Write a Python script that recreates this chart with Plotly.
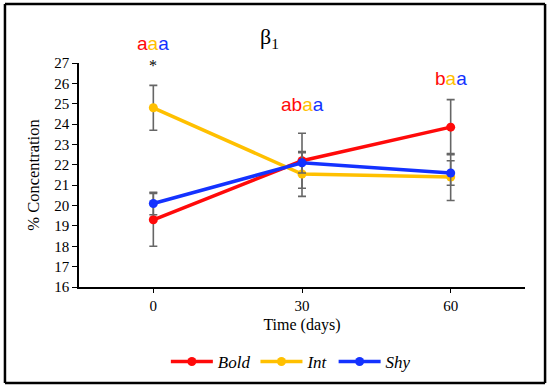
import plotly.graph_objects as go

days = [0, 30, 60]
series_names = ["Bold", "Int", "Shy"]
bold_vals = [19.3, 22.2, 23.85]
int_vals = [24.8, 21.55, 21.4]
shy_vals = [20.1, 22.1, 21.6]
bold_err = [1.3, 1.35, 1.35]
int_err = [1.1, 1.1, 1.15]
shy_err = [0.55, 0.5, 0.6]
colors = ["#FF0A0A", "#FFC000", "#1432FF"]
letter_groups = [["a", "a", "a"], ["ab", "a", "a"], ["b", "a", "a"]]
letter_y_px = [43, 104, 78]  # pixel rows of the letter labels
star_y = 27.0
y_ticks = list(range(16, 28))

PLOT_TOP, PLOT_BOTTOM = 63, 287

def ypaper(px):
    return (PLOT_BOTTOM - px) / (PLOT_BOTTOM - PLOT_TOP)

fig = go.Figure()
for name, vals, errs, col in zip(series_names, [bold_vals, int_vals, shy_vals],
                                 [bold_err, int_err, shy_err], colors):
    fig.add_trace(go.Scatter(
        x=days, y=vals, name="<i>" + name + "</i>", mode="lines+markers",
        line=dict(color=col, width=3.5), marker=dict(color=col, size=9),
        error_y=dict(type="data", array=errs, visible=True, color="#666666",
                     thickness=1.6, width=4),
    ))

serif = "Liberation Serif, Times New Roman, serif"
for d, grp, ypx in zip(days, letter_groups, letter_y_px):
    txt = "".join(f"<span style='color:{c}'>{g}</span>" for g, c in zip(grp, colors))
    fig.add_annotation(x=d, y=ypaper(ypx), xref="x", yref="paper", text=txt, showarrow=False,
                       xanchor="center", yanchor="middle",
                       font=dict(family="Liberation Sans, Arial, sans-serif", size=19))
fig.add_annotation(x=0, y=star_y, text="*", showarrow=False, yshift=-2,
                   xanchor="center", yanchor="middle",
                   font=dict(family=serif, size=16, color="black"))

fig.add_annotation(x=0.428, y=ypaper(38), xref="paper", yref="paper", text="β<sub>1</sub>",
                   showarrow=False, xanchor="center", yanchor="middle",
                   font=dict(family=serif, size=22, color="black"))

# outer frame drawn as four separate lines
frame_x0, frame_x1 = -0.166, 1.045
frame_y0, frame_y1 = ypaper(383), ypaper(4)
for (xa, ya, xb, yb) in [(frame_x0, frame_y0, frame_x1, frame_y0),
                         (frame_x0, frame_y1, frame_x1, frame_y1),
                         (frame_x0, frame_y0, frame_x0, frame_y1),
                         (frame_x1, frame_y0, frame_x1, frame_y1)]:
    fig.add_shape(type="line", xref="paper", yref="paper", x0=xa, y0=ya, x1=xb, y1=yb,
                  line=dict(color="black", width=2.5))

fig.update_layout(
    width=550, height=388,
    margin=dict(l=79, r=25, t=63, b=101, autoexpand=False),
    paper_bgcolor="white", plot_bgcolor="white",
    font=dict(family=serif, size=15, color="black"),
    showlegend=True, hovermode=False, dragmode=False,
    legend=dict(orientation="h", x=0.475, xanchor="center", y=ypaper(362), yanchor="middle",
                font=dict(family=serif, size=17, color="black"), itemwidth=42,
                bgcolor="rgba(0,0,0,0)", borderwidth=0),
    xaxis=dict(range=[-15, 75], tickvals=days, showgrid=False, zeroline=False, automargin=False,
               showline=True, linecolor="black", linewidth=1.6, ticks="outside",
               ticklen=4, tickcolor="black", tickfont=dict(size=15),
               title=dict(text="Time (days)", font=dict(family=serif, size=16), standoff=6)),
    yaxis=dict(range=[16, 27], tickvals=y_ticks, showgrid=False, zeroline=False, automargin=False,
               showline=True, linecolor="black", linewidth=1.6, ticks="outside",
               ticklen=5, tickcolor="black", tickfont=dict(size=15),
               title=dict(text="% Concentration", font=dict(family=serif, size=16.5), standoff=10)),
)
fig.write_html("out.html", config={"displayModeBar": False},
               post_script="document.body.style.margin='0';document.body.style.overflow='hidden';")
